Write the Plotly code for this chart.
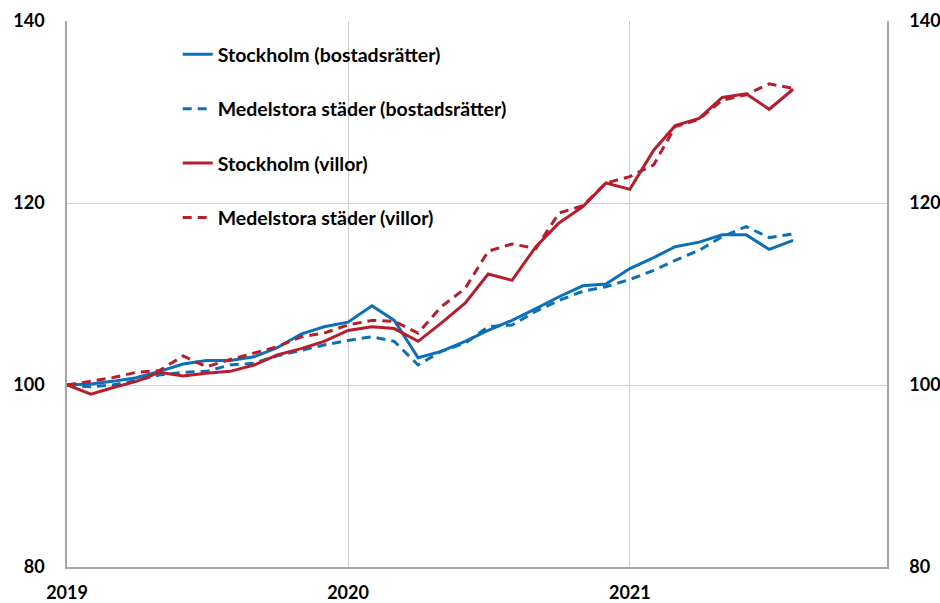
import plotly.graph_objects as go
import pandas as pd

months = pd.date_range("2019-01-01", "2021-08-01", freq="MS")

sthlm_br = [100.0, 100.1, 100.4, 100.8, 101.5, 102.3, 102.7, 102.7, 103.1, 104.1, 105.6, 106.4,
            106.9, 108.7, 107.1, 103.0, 103.7, 104.8, 106.0, 107.1, 108.4, 109.7, 110.9, 111.1,
            112.8, 114.0, 115.2, 115.7, 116.5, 116.5, 114.9, 115.9]
medel_br = [100.0, 99.8, 100.0, 100.5, 101.1, 101.4, 101.5, 102.2, 102.4, 103.2, 103.8, 104.4,
            104.9, 105.3, 104.8, 102.2, 103.7, 104.6, 106.4, 106.6, 108.1, 109.3, 110.3, 110.8,
            111.6, 112.6, 113.7, 114.8, 116.3, 117.4, 116.2, 116.6]
sthlm_villor = [100.0, 99.0, 99.7, 100.4, 101.4, 101.0, 101.3, 101.5, 102.2, 103.3, 104.0, 104.8,
                106.0, 106.4, 106.2, 104.8, 106.8, 109.0, 112.2, 111.5, 115.2, 117.8, 119.6, 122.2,
                121.5, 125.8, 128.5, 129.3, 131.6, 132.0, 130.3, 132.5]
medel_villor = [100.0, 100.4, 100.8, 101.4, 101.6, 103.2, 102.0, 102.8, 103.5, 104.2, 105.3, 105.7,
                106.6, 107.1, 107.0, 105.7, 108.6, 110.6, 114.7, 115.5, 115.0, 118.9, 119.7, 122.2,
                122.9, 124.2, 128.4, 129.2, 131.3, 131.9, 133.1, 132.6]

names = ["Stockholm (bostadsrätter)", "Medelstora städer (bostadsrätter)",
         "Stockholm (villor)", "Medelstora städer (villor)"]
y_ticks = [80, 100, 120, 140]
x_ticks = ["2019-01-01", "2020-01-01", "2021-01-01"]
x_tick_labels = ["2019", "2020", "2021"]

BLUE = "#0A70B8"
RED = "#B71E2D"
FONT = "Lato"

series = [
    (sthlm_br, BLUE, "solid"),
    (medel_br, BLUE, "9px,6px"),
    (sthlm_villor, RED, "solid"),
    (medel_villor, RED, "9px,6px"),
]

fig = go.Figure()
for i, (vals, col, dash) in enumerate(series):
    fig.add_trace(go.Scatter(
        x=months, y=vals, mode="lines", name=names[i], legendgroup=f"g{i}",
        line=dict(color=col, width=3, dash=dash),
    ))
# invisible trace for right axis
fig.add_trace(go.Scatter(x=months[:1], y=sthlm_br[:1], yaxis="y2", mode="lines",
                         showlegend=False, hoverinfo="skip", line=dict(width=0)))

GRID = "#D0D0D0"
AX = "#A6A6A6"
tickfont = dict(family=FONT, size=18, color="#000000", weight="bold")

fig.update_layout(
    width=940, height=603,
    margin=dict(l=67, r=53, t=21, b=36, autoexpand=False),
    plot_bgcolor="white", paper_bgcolor="white",
    font=dict(family=FONT, size=18, color="#000000"),
    xaxis=dict(
        type="date", range=["2019-01-01", "2021-12-01"],
        tickvals=x_ticks, ticktext=x_tick_labels,
        showgrid=True, gridcolor=GRID, gridwidth=1,
        showline=True, linecolor=AX, linewidth=1.5,
        ticks="", tickfont=tickfont, ticklabelstandoff=9,
        zeroline=False, automargin=False,
    ),
    yaxis=dict(
        range=[80, 140], tickvals=y_ticks,
        showgrid=True, gridcolor=GRID, gridwidth=1,
        showline=True, linecolor=AX, linewidth=1.5,
        ticks="", tickfont=tickfont, ticklabelstandoff=17,
        zeroline=False, automargin=False,
    ),
    yaxis2=dict(
        range=[80, 140], tickvals=y_ticks, overlaying="y", side="right",
        showgrid=False, showline=True, linecolor=AX, linewidth=1.5,
        ticks="", tickfont=tickfont, ticklabelstandoff=17, zeroline=False,
        automargin=False,
    ),
    legend=dict(
        x=0.135, y=0.974, xanchor="left", yanchor="top",
        bgcolor="rgba(0,0,0,0)", borderwidth=0,
        font=dict(family=FONT, size=19.5, color="#000000", weight="bold"),
        traceorder="grouped", tracegroupgap=26,
        itemwidth=30,
    ),
    showlegend=True,
)

fig.write_html(
    "out.html",
    config={"displayModeBar": False},
    post_script="document.body.style.margin='0';document.body.style.overflow='hidden';",
)
